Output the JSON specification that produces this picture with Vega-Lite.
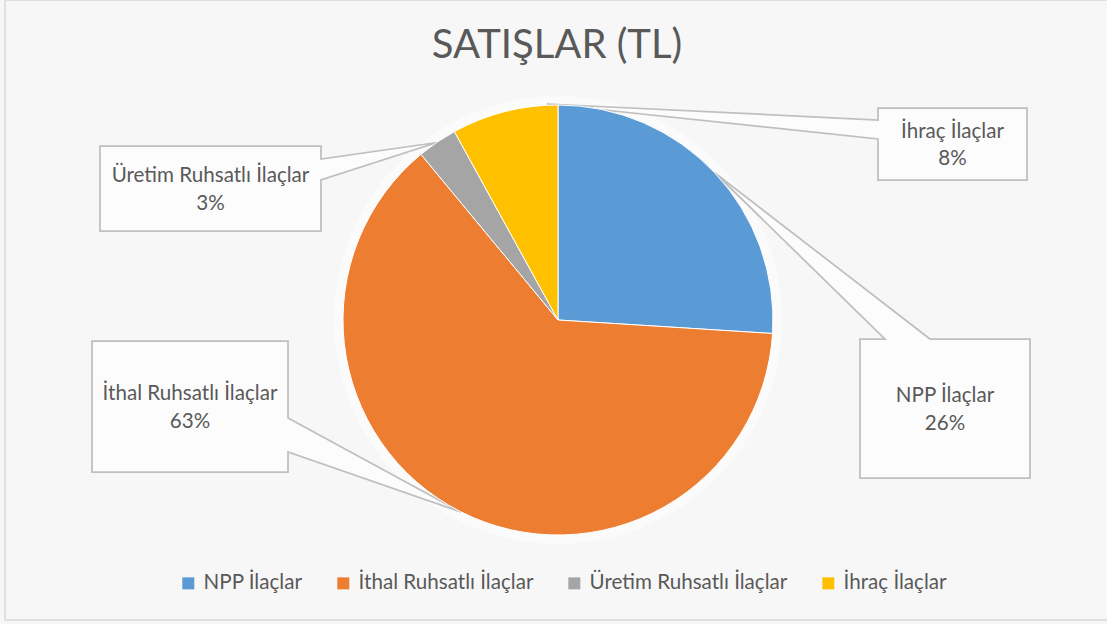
{
  "$schema": "https://vega.github.io/schema/vega-lite/v6.json",
  "width": 1104,
  "height": 620,
  "autosize": {"type": "none"},
  "padding": {"left": 5, "top": 0, "right": 0, "bottom": 4},
  "background": "#f7f7f7",
  "config": {"view": {"stroke": "#d9d9d9", "strokeWidth": 1.5}, "font": "Lato"},
  "title": {"text": "SATIŞLAR (TL)", "fontSize": 40, "font": "Lato", "fontWeight": "normal", "color": "#595959", "anchor": "middle", "offset": -66},
  "data": {"values": [
    {"kategori": "NPP İlaçlar", "pay": 0.26, "sira": 1},
    {"kategori": "İthal Ruhsatlı İlaçlar", "pay": 0.63, "sira": 2},
    {"kategori": "Üretim Ruhsatlı İlaçlar", "pay": 0.03, "sira": 3},
    {"kategori": "İhraç İlaçlar", "pay": 0.08, "sira": 4}
  ]},
  "layer": [
    {
      "mark": {"type": "arc", "outerRadius": 224, "fill": "#ffffff", "opacity": 0.45, "xOffset": 1, "yOffset": 10},
      "encoding": {"theta": {"field": "pay", "type": "quantitative"}}
    },
    {
      "mark": {"type": "point", "filled": true, "fill": "#fcfcfc", "stroke": "#bfbfbf", "strokeWidth": 1.75, "opacity": 1, "size": 4},
      "encoding": {
        "x": {"field": "pay", "type": "quantitative", "scale": {"domain": [0.03, 0.08, 0.26, 0.63], "range": [205.5, 947.5, 940, 185], "zero": false, "nice": false}, "axis": null},
        "y": {"field": "pay", "type": "quantitative", "scale": {"domain": [0.03, 0.08, 0.26, 0.63], "range": [188.5, 144, 408.5, 406.5], "zero": false, "nice": false}, "axis": null},
        "shape": {
          "field": "sira", "type": "nominal",
          "scale": {
            "domain": [1, 2, 3, 4],
            "range": [
              "M -85 -69.5 L -60 -69.5 L -230 -235.5 L -15 -69.5 L 85 -69.5 L 85 69.5 L -85 69.5 Z",
              "M -98 -65.5 L 98 -65.5 L 98 11.5 L 271 105.5 L 98 45.5 L 98 65.5 L -98 65.5 Z",
              "M -110.5 -42.5 L 110.5 -42.5 L 110.5 -29.5 L 226.5 -46 L 110.5 -8.5 L 110.5 42.5 L -110.5 42.5 Z",
              "M -74.5 -36 L 74.5 -36 L 74.5 36 L -74.5 36 L -74.5 -5 L -405.5 -40 L -74.5 -24 Z"
            ]
          },
          "legend": null
        }
      }
    },
    {
      "mark": {"type": "arc", "outerRadius": 215, "stroke": "#ffffff", "strokeWidth": 1, "xOffset": 1, "yOffset": 10},
      "encoding": {
        "theta": {"field": "pay", "type": "quantitative", "stack": true},
        "order": {"field": "sira", "type": "quantitative"},
        "color": {
          "field": "kategori", "type": "nominal",
          "scale": {
            "domain": ["NPP İlaçlar", "İthal Ruhsatlı İlaçlar", "Üretim Ruhsatlı İlaçlar", "İhraç İlaçlar"],
            "range": ["#5B9BD5", "#ED7D31", "#A5A5A5", "#FFC000"]
          },
          "legend": {
            "orient": "none", "legendX": 173, "legendY": 573, "direction": "horizontal", "columns": 4,
            "title": null, "symbolType": "square", "symbolSize": 144, "symbolStrokeWidth": 0,
            "labelFont": "Lato", "labelFontSize": 20.6, "labelColor": "#595959", "labelLimit": 500,
            "columnPadding": 30, "labelOffset": 5
          }
        }
      }
    },
    {
      "mark": {"type": "text", "font": "Lato", "fontSize": 20.6, "color": "#595959", "baseline": "alphabetic", "dy": -6.5},
      "encoding": {
        "x": {"field": "pay", "type": "quantitative", "scale": {"domain": [0.03, 0.08, 0.26, 0.63], "range": [205.5, 947.5, 940, 185], "zero": false, "nice": false}, "axis": null},
        "y": {"field": "pay", "type": "quantitative", "scale": {"domain": [0.03, 0.08, 0.26, 0.63], "range": [188.5, 144, 408.5, 406.5], "zero": false, "nice": false}, "axis": null},
        "text": {"field": "kategori", "type": "nominal"}
      }
    },
    {
      "mark": {"type": "text", "font": "Lato", "fontSize": 20.6, "color": "#595959", "baseline": "alphabetic", "dy": 21},
      "encoding": {
        "x": {"field": "pay", "type": "quantitative", "scale": {"domain": [0.03, 0.08, 0.26, 0.63], "range": [205.5, 947.5, 940, 185], "zero": false, "nice": false}, "axis": null},
        "y": {"field": "pay", "type": "quantitative", "scale": {"domain": [0.03, 0.08, 0.26, 0.63], "range": [188.5, 144, 408.5, 406.5], "zero": false, "nice": false}, "axis": null},
        "text": {"field": "pay", "type": "quantitative", "format": ".0%"}
      }
    }
  ]
}
